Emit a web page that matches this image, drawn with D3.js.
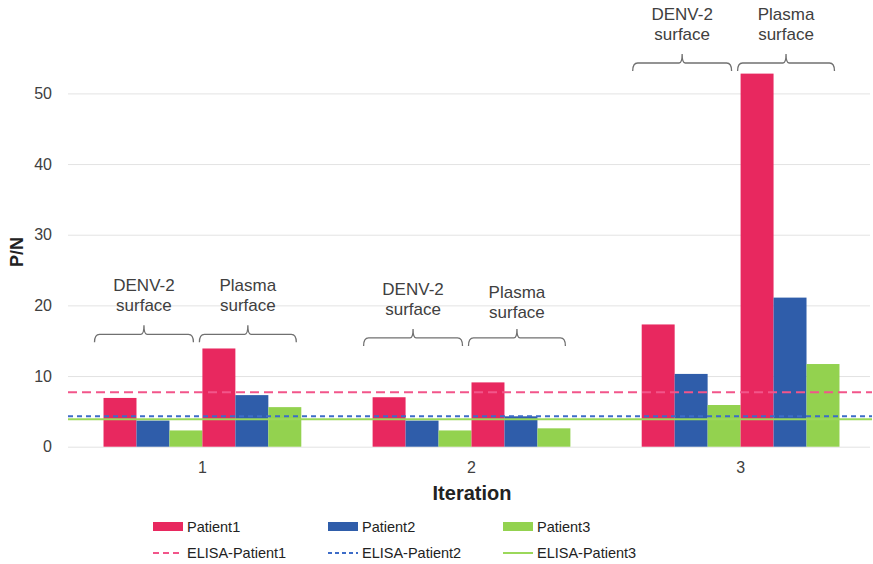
<!DOCTYPE html>
<html lang="en">
  <head>
    <meta charset="utf-8">
    <title>P/N by iteration</title>
    <script type="text/javascript" src="https://cdn.jsdelivr.net/npm/d3@7"></script>
    <style>
    body { margin: 0; background: #fff; }
    svg { font-family: "Liberation Sans", Arial, sans-serif; }
    .tick line { stroke: #e3e3e3; }
    .domain { display: none; }
    </style>
  </head>
  <body>
    <div id="vis"></div>
    <script type="text/javascript">

      // data
      var iterations = ["1", "2", "3"];
      var surfaces = ["DENV-2 surface", "Plasma surface"];
      var patients = ["Patient1", "Patient2", "Patient3"];
      // per iteration: [DENV-2 surface, Plasma surface]
      var patient1 = [[6.9, 13.9], [7.0, 9.1], [17.3, 52.8]];
      var patient2 = [[3.7, 7.3], [3.7, 4.3], [10.3, 21.1]];
      var patient3 = [[2.3, 5.6], [2.3, 2.6], [5.9, 11.7]];
      var elisa = [7.7, 4.3, 3.9];
      var bracketLevel = [15.9, 15.4, 54.3]; // where the brace sits, in P/N units
      var yTicks = [0, 10, 20, 30, 40, 50];

      var colors = ["#e8285f", "#2f5daa", "#93d24f"];
      var elisaColors = ["#f2558a", "#3d6cc8", "#9bd85a"];
      var elisaDash = ["9,5", "5,4", null];

      var width = 873, height = 564;
      var margin = {top: 10, right: 0, bottom: 117, left: 68};

      var svg = d3.select("#vis").append("svg")
          .attr("width", width)
          .attr("height", height);

      var x = d3.scaleBand()
          .domain(iterations)
          .range([margin.left, 875])
          .paddingInner(0.265)
          .paddingOuter(0.132);

      var y = d3.scaleLinear()
          .domain([0, 50])
          .range([446.7, 93.4]);

      // gridlines + y labels
      var yAxis = d3.axisLeft(y)
          .tickValues(yTicks)
          .tickSize(-(870 - margin.left))
          .tickPadding(16);

      svg.append("g")
          .attr("class", "y axis")
          .attr("transform", "translate(" + margin.left + ",0)")
          .call(yAxis)
          .call(function(g) {
            g.selectAll("text")
              .attr("fill", "#404040")
              .attr("font-size", 16);
          });

      // bars
      var bar = x.bandwidth() / 6;
      var barData = [];
      iterations.forEach(function(it, i) {
        surfaces.forEach(function(s, j) {
          [patient1, patient2, patient3].forEach(function(series, k) {
            barData.push({it: it, slot: j * 3 + k, value: series[i][j], patient: k});
          });
        });
      });

      svg.append("g").selectAll("rect")
          .data(barData)
          .enter().append("rect")
            .attr("x", function(d) { return x(d.it) + d.slot * bar; })
            .attr("width", bar)
            .attr("y", function(d) { return y(d.value); })
            .attr("height", function(d) { return y(0) - y(d.value); })
            .attr("fill", function(d) { return colors[d.patient]; });

      // ELISA cut-off lines
      svg.append("g").selectAll("line")
          .data(elisa)
          .enter().append("line")
            .attr("x1", margin.left)
            .attr("x2", 872)
            .attr("y1", function(d) { return y(d); })
            .attr("y2", function(d) { return y(d); })
            .attr("stroke", function(d, i) { return elisaColors[i]; })
            .attr("stroke-width", 2)
            .attr("stroke-dasharray", function(d, i) { return elisaDash[i]; });

      // x labels
      svg.append("g").selectAll("text")
          .data(iterations)
          .enter().append("text")
            .attr("x", function(d) { return x(d) + x.bandwidth() / 2; })
            .attr("y", 473)
            .attr("text-anchor", "middle")
            .attr("font-size", 16)
            .attr("fill", "#404040")
            .text(function(d) { return d; });

      svg.append("text")
          .attr("x", 472)
          .attr("y", 500)
          .attr("text-anchor", "middle")
          .attr("font-size", 20)
          .attr("font-weight", "bold")
          .attr("fill", "#222")
          .text("Iteration");

      svg.append("text")
          .attr("transform", "translate(23,252) rotate(-90)")
          .attr("text-anchor", "middle")
          .attr("font-size", 18)
          .attr("font-weight", "bold")
          .attr("fill", "#222")
          .text("P/N");

      // braces with labels
      var braces = svg.append("g")
          .attr("fill", "none")
          .attr("stroke", "#707070")
          .attr("stroke-width", 1.3);

      iterations.forEach(function(it, i) {
        var by = y(bracketLevel[i]);
        surfaces.forEach(function(s, j) {
          var shift = j == 0 ? -9 : -5;
          var x0 = x(it) + j * 3 * bar + shift + (j == 0 ? 0 : 2);
          var x1 = x(it) + (j + 1) * 3 * bar + shift;
          var xm = (x0 + x1) / 2;
          braces.append("path")
            .attr("d", "M" + x0 + "," + (by + 8) +
                       "Q" + x0 + "," + by + " " + (x0 + 5) + "," + by +
                       "L" + (xm - 3) + "," + by +
                       "Q" + xm + "," + by + " " + xm + "," + (by - 9) +
                       "Q" + xm + "," + by + " " + (xm + 3) + "," + by +
                       "L" + (x1 - 5) + "," + by +
                       "Q" + x1 + "," + by + " " + x1 + "," + (by + 8));
          var words = s.split(" ");
          var t = svg.append("text")
            .attr("x", xm)
            .attr("y", by - 43 + (j == 1 && i == 1 ? 3 : 0))
            .attr("text-anchor", "middle")
            .attr("font-size", 17)
            .attr("fill", "#404040");
          t.append("tspan").attr("x", xm).text(words[0]);
          t.append("tspan").attr("x", xm).attr("dy", 20).text(words[1]);
        });
      });

      // legend
      var legend = svg.append("g");
      patients.forEach(function(p, k) {
        var lx = 153 + k * 175;
        legend.append("rect")
          .attr("x", lx).attr("y", 522)
          .attr("width", 30).attr("height", 9)
          .attr("fill", colors[k]);
        legend.append("text")
          .attr("x", lx + 34).attr("y", 532)
          .attr("font-size", 14.5)
          .attr("fill", "#222")
          .text(p);
        legend.append("line")
          .attr("x1", lx).attr("x2", lx + 30)
          .attr("y1", 553).attr("y2", 553)
          .attr("stroke", elisaColors[k])
          .attr("stroke-width", 2)
          .attr("stroke-dasharray", k == 0 ? "6,4" : (k == 1 ? "4,3" : null));
        legend.append("text")
          .attr("x", lx + 34).attr("y", 558)
          .attr("font-size", 14.5)
          .attr("fill", "#222")
          .text("ELISA-" + p);
      });

    </script>
  </body>
</html>
